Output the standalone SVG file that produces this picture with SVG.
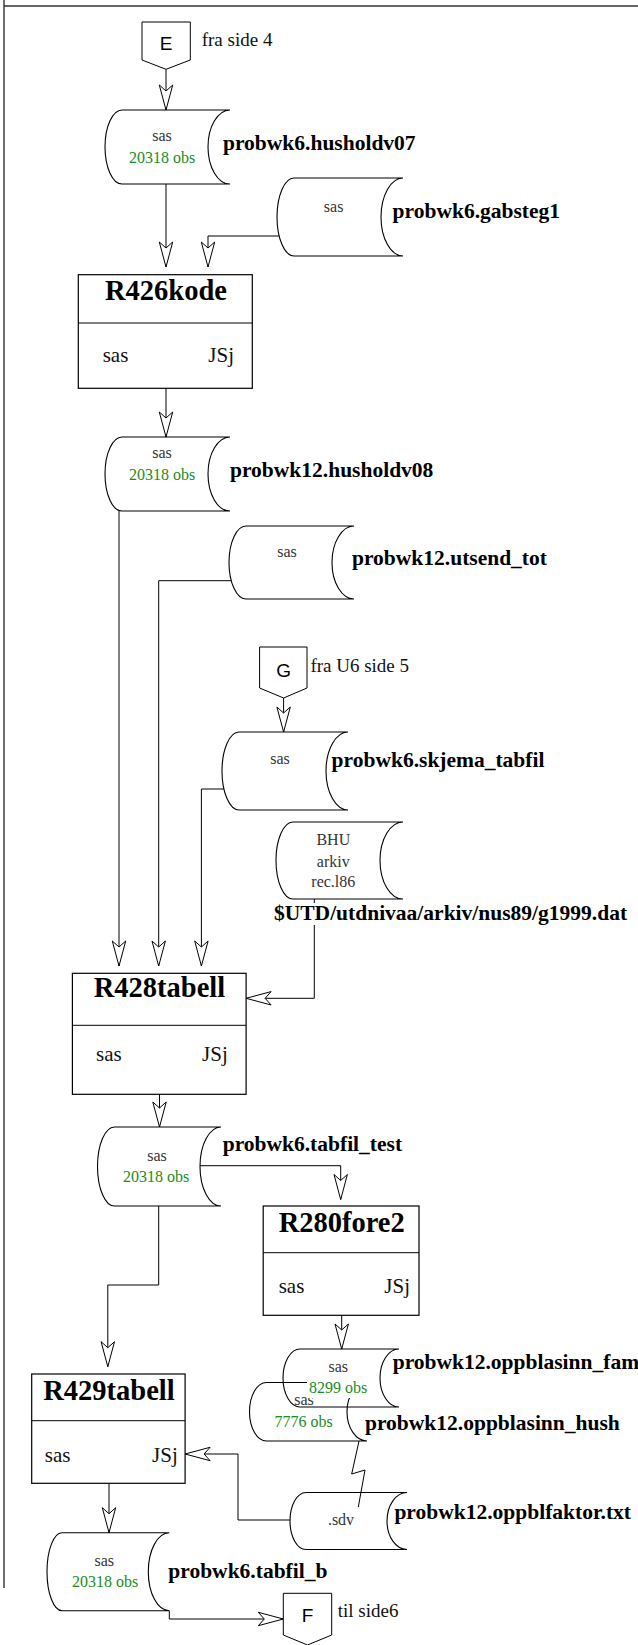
<svg xmlns="http://www.w3.org/2000/svg" width="638" height="1645" viewBox="0 0 638 1645">
<style>
.frame{fill:none;stroke:#333;stroke-width:1.4}
.ln{fill:none;stroke:#000;stroke-width:1}
.cyl{fill:none;stroke:#000;stroke-width:1.1}
.box{fill:#fff;stroke:#000;stroke-width:1.2}
.pent{fill:#fff;stroke:#000;stroke-width:1}
.s16{font-family:'Liberation Serif','Times New Roman',serif;font-size:16px;fill:#333}
.obs{font-family:'Liberation Serif','Times New Roman',serif;font-size:16px;fill:#1a8c1a}
.lbl{font-family:'Liberation Serif','Times New Roman',serif;font-size:21.5px;font-weight:bold;fill:#000}
.ttl{font-family:'Liberation Serif','Times New Roman',serif;font-size:28.5px;font-weight:bold;fill:#000}
.bt{font-family:'Liberation Serif','Times New Roman',serif;font-size:21px;fill:#111}
.side{font-family:'Liberation Serif','Times New Roman',serif;font-size:19px;fill:#111}
.let{font-family:'Liberation Sans',Arial,sans-serif;font-size:19px;fill:#000}
.bg{fill:#fff;stroke:none}
</style>
<defs>
<marker id="ah" markerWidth="26" markerHeight="14" viewBox="0 0 26 14" refX="25" refY="7" orient="auto" markerUnits="userSpaceOnUse" overflow="visible">
<path d="M0,0.3 L25,7 L0,13.7 L6,7 Z" fill="#fff" stroke="#000" stroke-width="1"/>
</marker>
</defs>

<g id="frame">
<line class="frame" x1="4" y1="0" x2="4" y2="1588"/>
<line class="frame" x1="4" y1="6" x2="638" y2="6"/>
</g>

<g id="connectors">
<path class="ln" d="M166,69.3 V110" marker-end="url(#ah)"/>
<path class="ln" d="M166,184 V267" marker-end="url(#ah)"/>
<path class="ln" d="M279,236 H208 V267" marker-end="url(#ah)"/>
<path class="ln" d="M166,388.3 V437" marker-end="url(#ah)"/>
<path class="ln" d="M119,511 V966" marker-end="url(#ah)"/>
<path class="ln" d="M231,580.7 H158.7 V966" marker-end="url(#ah)"/>
<path class="ln" d="M283.6,698 V732" marker-end="url(#ah)"/>
<path class="ln" d="M224,789 H201.4 V966" marker-end="url(#ah)"/>
<path class="ln" d="M314.3,899 V998.3 H246.1" marker-end="url(#ah)"/>
<path class="ln" d="M159.5,1094.3 V1127" marker-end="url(#ah)"/>
<path class="ln" d="M200,1165.7 H340.7 V1199.5" marker-end="url(#ah)"/>
<path class="ln" d="M158.7,1206 V1285 H107.8 V1366.7" marker-end="url(#ah)"/>
<path class="ln" d="M341.7,1315.3 V1349" marker-end="url(#ah)"/>
<path class="ln" d="M359,1441 L351.7,1474 L365,1470 L358.3,1507"/>
<path class="ln" d="M290,1520 H238 V1454 H185.1" marker-end="url(#ah)"/>
<path class="ln" d="M109,1483.3 V1532.7" marker-end="url(#ah)"/>
<path class="ln" d="M169.3,1610.7 V1619 H283.3" marker-end="url(#ah)"/>
</g>

<g id="E">
<path class="pent" d="M142,22 H190.3 V60 L166,69.3 L142,60 Z"/>
<text class="let" x="166" y="49.5" text-anchor="middle">E</text>
<text class="side" x="201.7" y="45.7">fra side 4</text>
</g>

<g id="husholdv07">
<path class="cyl" d="M122,110 L230,110 A22,37 0 0 0 230,184 L122,184 A17,37 0 0 1 122,110 Z"/>
<text class="s16" x="162" y="141" text-anchor="middle">sas</text>
<text class="obs" x="162" y="163" text-anchor="middle">20318 obs</text>
<text class="lbl" x="223" y="150">probwk6.husholdv07</text>
</g>

<g id="gabsteg1">
<path class="cyl" d="M294,178 L403,178 A22,39 0 0 0 403,256 L294,256 A17,39 0 0 1 294,178 Z"/>
<text class="s16" x="333.6" y="212" text-anchor="middle">sas</text>
<text class="lbl" x="392.6" y="218">probwk6.gabsteg1</text>
</g>

<g id="R426kode">
<rect class="box" x="78.3" y="274.7" width="174" height="113.6"/>
<line class="ln" x1="78.3" y1="323" x2="252.3" y2="323"/>
<text class="ttl" x="166" y="300" text-anchor="middle">R426kode</text>
<text class="bt" x="102.7" y="361.7">sas</text>
<text class="bt" x="234" y="361.7" text-anchor="end">JSj</text>
</g>

<g id="husholdv08">
<path class="cyl" d="M122,437 L230,437 A22,37 0 0 0 230,511 L122,511 A17,37 0 0 1 122,437 Z"/>
<text class="s16" x="162" y="458" text-anchor="middle">sas</text>
<text class="obs" x="162" y="480" text-anchor="middle">20318 obs</text>
<text class="lbl" x="230" y="477">probwk12.husholdv08</text>
</g>

<g id="utsend_tot">
<path class="cyl" d="M246,526 L354,526 A22,36.5 0 0 0 354,599 L246,599 A17,36.5 0 0 1 246,526 Z"/>
<text class="s16" x="287" y="557" text-anchor="middle">sas</text>
<text class="lbl" x="352" y="565">probwk12.utsend_tot</text>
</g>

<g id="G">
<path class="pent" d="M259.6,647 H307 V688 L283.6,698 L259.6,688 Z"/>
<text class="let" x="283.6" y="677" text-anchor="middle">G</text>
<text class="side" x="310.4" y="671.7">fra U6 side 5</text>
</g>

<g id="skjema_tabfil">
<path class="cyl" d="M239,732 L348,732 A22,39 0 0 0 348,810 L239,810 A17,39 0 0 1 239,732 Z"/>
<text class="s16" x="280" y="764" text-anchor="middle">sas</text>
<text class="lbl" x="331.6" y="767">probwk6.skjema_tabfil</text>
</g>

<g id="g1999">
<path class="cyl" d="M293,822 L403,822 A23,38.5 0 0 0 403,899 L293,899 A17,38.5 0 0 1 293,822 Z"/>
<text class="s16" x="333.3" y="845" text-anchor="middle">BHU</text>
<text class="s16" x="333.3" y="866.7" text-anchor="middle">arkiv</text>
<text class="s16" x="333.3" y="886.7" text-anchor="middle">rec.l86</text>
<rect class="bg" x="273" y="903" width="358" height="22"/>
<text class="lbl" x="274" y="920">$UTD/utdnivaa/arkiv/nus89/g1999.dat</text>
</g>

<g id="R428tabell">
<rect class="box" x="72.4" y="973.3" width="173.7" height="121"/>
<line class="ln" x1="72.4" y1="1025.3" x2="246.1" y2="1025.3"/>
<text class="ttl" x="159.5" y="997" text-anchor="middle">R428tabell</text>
<text class="bt" x="96" y="1060.7">sas</text>
<text class="bt" x="227.8" y="1060.7" text-anchor="end">JSj</text>
</g>

<g id="tabfil_test">
<path class="cyl" d="M114.5,1127 L221,1127 A21,39.5 0 0 0 221,1206 L114.5,1206 A17,39.5 0 0 1 114.5,1127 Z"/>
<text class="s16" x="157" y="1161" text-anchor="middle">sas</text>
<text class="obs" x="156" y="1181.7" text-anchor="middle">20318 obs</text>
<text class="lbl" x="222.7" y="1150.7">probwk6.tabfil_test</text>
</g>

<g id="R280fore2">
<rect class="box" x="263.2" y="1206" width="155.8" height="109.3"/>
<line class="ln" x1="263.2" y1="1252.7" x2="419" y2="1252.7"/>
<text class="ttl" x="341.7" y="1231.7" text-anchor="middle">R280fore2</text>
<text class="bt" x="278.7" y="1293.3">sas</text>
<text class="bt" x="410" y="1293.3" text-anchor="end">JSj</text>
</g>

<g id="oppblasinn_hush">
<path class="cyl" d="M266.5,1382.5 L367,1382.5 A20,29.25 0 0 0 367,1441 L266.5,1441 A17,29.25 0 0 1 266.5,1382.5 Z"/>
<text class="s16" x="304" y="1405" text-anchor="middle">sas</text>
<text class="obs" x="303.5" y="1426.7" text-anchor="middle">7776 obs</text>
<text class="lbl" x="365" y="1430">probwk12.oppblasinn_hush</text>
</g>

<g id="oppblasinn_fam">
<path class="cyl" d="M300,1349 L399,1349 A19,29 0 0 0 399,1407 L300,1407 A17,29 0 0 1 300,1349 Z"/>
<text class="s16" x="338.3" y="1371.7" text-anchor="middle">sas</text>
<rect class="bg" x="307" y="1379" width="62" height="19"/>
<text class="obs" x="338" y="1393.3" text-anchor="middle">8299 obs</text>
<text class="lbl" x="392.7" y="1369">probwk12.oppblasinn_fam</text>
</g>

<g id="R429tabell">
<rect class="box" x="31.7" y="1374" width="153.4" height="109.3"/>
<line class="ln" x1="31.7" y1="1420.7" x2="185.1" y2="1420.7"/>
<text class="ttl" x="109" y="1400" text-anchor="middle">R429tabell</text>
<text class="bt" x="44.8" y="1461.7">sas</text>
<text class="bt" x="177.8" y="1461.7" text-anchor="end">JSj</text>
</g>

<g id="oppblfaktor">
<path class="cyl" d="M306,1492.5 L407,1492.5 A20,28.5 0 0 0 407,1549.5 L306,1549.5 A16,28.5 0 0 1 306,1492.5 Z"/>
<text class="s16" x="341" y="1525" text-anchor="middle">.sdv</text>
<text class="lbl" x="394.4" y="1519">probwk12.oppblfaktor.txt</text>
</g>

<g id="tabfil_b">
<path class="cyl" d="M62,1532.7 L169.3,1532.7 A21,39 0 0 0 169.3,1610.7 L62,1610.7 A15,39 0 0 1 62,1532.7 Z"/>
<text class="s16" x="104.3" y="1566" text-anchor="middle">sas</text>
<text class="obs" x="105" y="1586.7" text-anchor="middle">20318 obs</text>
<text class="lbl" x="168.3" y="1578.3">probwk6.tabfil_b</text>
</g>

<g id="F">
<path class="pent" d="M283.3,1593.3 H331.7 V1635 L307.5,1645 L283.3,1635 Z"/>
<text class="let" x="307.5" y="1622" text-anchor="middle">F</text>
<text class="side" x="337.7" y="1617.3">til side6</text>
</g>
</svg>
